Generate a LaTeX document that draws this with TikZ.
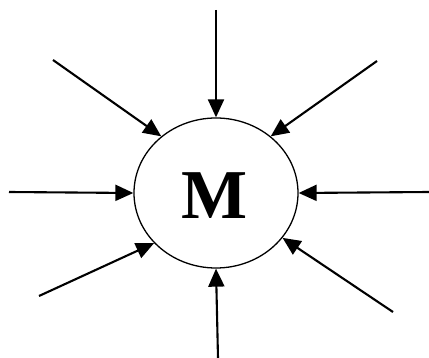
\documentclass[tikz,border=0pt]{standalone}
\usepackage{fontspec}
\setmainfont{Liberation Serif}
\usetikzlibrary{arrows.meta,shapes.geometric}
\begin{document}
\begin{tikzpicture}[x=1pt,y=-1pt,
  inarrow/.style={line width=2.1pt,-{Triangle[length=18pt,width=16pt]}},
  core/.style={ellipse,draw,line width=1.3pt,minimum width=164pt,minimum height=150pt,inner sep=0pt}]
\useasboundingbox (0,0) rectangle (429,358);
\node[core] (m) at (216,193) {};
\node[font=\bfseries\fontsize{70}{70}\selectfont,inner sep=0pt] (lbl) at (215,196) {M};
\coordinate (s1) at (216,10);
\coordinate (s2) at (53,60);
\coordinate (s3) at (377,61);
\coordinate (s4) at (9,192);
\coordinate (s5) at (429,192);
\coordinate (s6) at (39,296);
\coordinate (s7) at (218,358);
\coordinate (s8) at (393,312);
\draw[inarrow] (s1) -- (m.north);
\draw[inarrow] (s2) -- (m.134);
\draw[inarrow] (s3) -- (m.46);
\draw[inarrow] (s4) -- (m.west);
\draw[inarrow] (s5) -- (m.east);
\draw[inarrow] (s6) -- (m.219);
\draw[inarrow] (s7) -- (m.south);
\draw[inarrow] (s8) -- (m.326);
\end{tikzpicture}
\end{document}
